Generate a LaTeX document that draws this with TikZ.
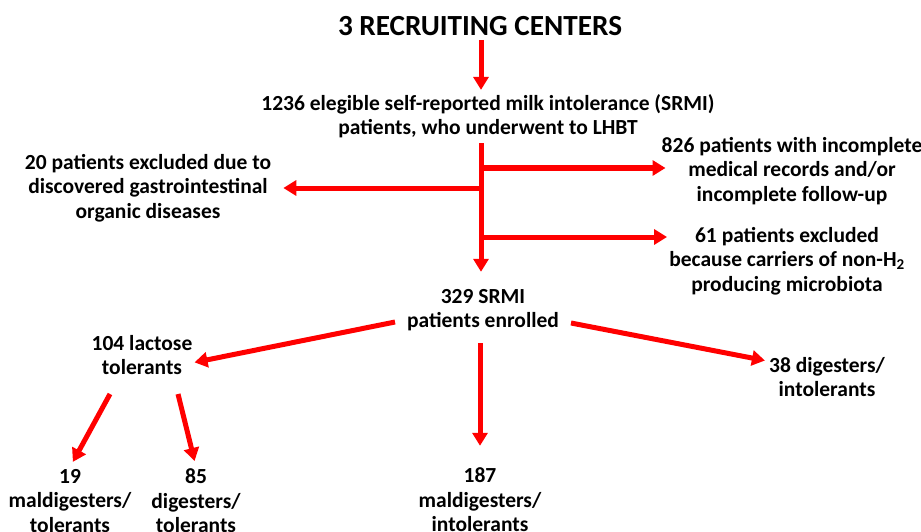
\documentclass[tikz,border=0pt]{standalone}
\usepackage{fontspec}
\setmainfont{Carlito}
\usetikzlibrary{arrows.meta}

\tikzset{
  flowarrow/.style={draw=red, line width=5pt, -{Triangle[width=15pt,length=13pt]}},
  flowtext/.style={align=center, inner sep=2pt, font=\bfseries\fontsize{21.5}{24.5}\selectfont},
  headtext/.style={inner sep=2pt, font=\bfseries\fontsize{29.2}{34}\selectfont},
}

\begin{document}
\begin{tikzpicture}[x=1pt,y=-1pt]

      \clip (0,0) rectangle (921,532);

      \node[headtext] (centers) at (480,26) {3 RECRUITING CENTERS};

      \begin{scope}[every node/.style={flowtext}]
        \node (elig)   at (488,116) {1236 elegible self-reported milk intolerance (SRMI)\\patients, who underwent to LHBT};
        \node (excl20) at (148,188) {20 patients excluded due to\\discovered gastrointestinal\\organic diseases};
        \node (inc826) at (792,171) {826 patients with incomplete\\medical records and/or\\incomplete follow-up};
        \node (excl61) at (787,261) {61 patients excluded\\because carriers of non-H\textsubscript{2}\\producing microbiota};
        \node (enrol)  at (483,310) {329 SRMI\\patients enrolled};
        \node (tol104) at (142,355) {104 lactose\\tolerants};
        \node (dig38)  at (827,377) {38 digesters/\\intolerants};
        \node (mal19)  at (70,501)  {19\\maldigesters/\\tolerants};
        \node (dig85)  at (196,501) {85\\digesters/\\tolerants};
        \node (mal187) at (480,500) {187\\maldigesters/\\intolerants};
      \end{scope}

      \coordinate (fork826) at (481,168);
      \coordinate (fork20)  at (481,188);
      \coordinate (fork61)  at (481,237);
      \coordinate (out104)  at (395,322);
      \coordinate (out38)   at (571,323);
      \coordinate (out19)   at (110,394);
      \coordinate (out85)   at (178,394);

      \draw[flowarrow, shorten <=2pt, shorten >=2pt] (fork20 |- centers.south) -- (fork20 |- elig.north);
      \draw[flowarrow, shorten <=3pt, shorten >=15pt] (fork20 |- elig.south) -- (fork20 |- enrol.north);
      \draw[flowarrow, shorten >=10pt] (fork20) -- (fork20 -| excl20.east);
      \draw[flowarrow, shorten >=-6pt] (fork826) -- (fork826 -| inc826.west);
      \draw[flowarrow] (fork61) -- (fork61 -| excl61.west);
      \draw[flowarrow] (out104) -- (tol104.-8);
      \draw[flowarrow, shorten >=2pt] (out38) -- (dig38.165);
      \draw[flowarrow, shorten <=10pt, shorten >=20pt] (enrol.south -| mal187.north) -- (mal187.north);
      \draw[flowarrow, shorten >=6pt] (out19) -- (mal19.north);
      \draw[flowarrow, shorten >=6pt] (out85) -- (dig85.north);

    \end{tikzpicture}
\end{document}
